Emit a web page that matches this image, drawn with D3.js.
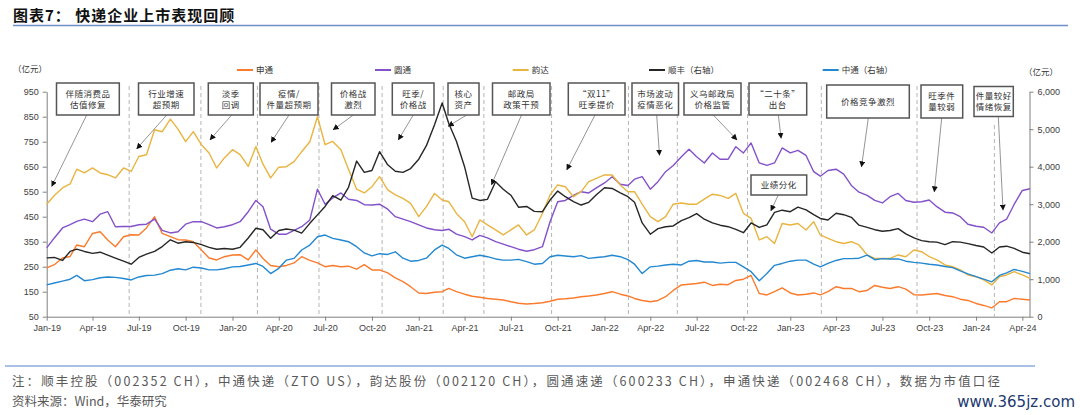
<!DOCTYPE html>
<html><head><meta charset="utf-8">
<script src="https://cdn.jsdelivr.net/npm/d3@7"></script>
<style>body{margin:0;background:#fff}svg{display:block}</style>
</head><body>
<svg id="c" width="1080" height="415"></svg>
<script>
// ---------- DATA ----------
const dates = [
"2019-01-01","2019-01-16","2019-02-01","2019-02-16","2019-03-01","2019-03-16","2019-04-01","2019-04-16","2019-05-01","2019-05-16","2019-06-01","2019-06-16",
"2019-07-01","2019-07-16","2019-08-01","2019-08-16","2019-09-01","2019-09-16","2019-10-01","2019-10-16","2019-11-01","2019-11-16","2019-12-01","2019-12-16",
"2020-01-01","2020-01-16","2020-02-01","2020-02-16","2020-03-01","2020-03-16","2020-04-01","2020-04-16","2020-05-01","2020-05-16","2020-06-01","2020-06-16",
"2020-07-01","2020-07-16","2020-08-01","2020-08-16","2020-09-01","2020-09-16","2020-10-01","2020-10-16","2020-11-01","2020-11-16","2020-12-01","2020-12-16",
"2021-01-01","2021-01-16","2021-02-01","2021-02-16","2021-03-01","2021-03-16","2021-04-01","2021-04-16","2021-05-01","2021-05-16","2021-06-01","2021-06-16",
"2021-07-01","2021-07-16","2021-08-01","2021-08-16","2021-09-01","2021-09-16","2021-10-01","2021-10-16","2021-11-01","2021-11-16","2021-12-01","2021-12-16",
"2022-01-01","2022-01-16","2022-02-01","2022-02-16","2022-03-01","2022-03-16","2022-04-01","2022-04-16","2022-05-01","2022-05-16","2022-06-01","2022-06-16",
"2022-07-01","2022-07-16","2022-08-01","2022-08-16","2022-09-01","2022-09-16","2022-10-01","2022-10-16","2022-11-01","2022-11-16","2022-12-01","2022-12-16",
"2023-01-01","2023-01-16","2023-02-01","2023-02-16","2023-03-01","2023-03-16","2023-04-01","2023-04-16","2023-05-01","2023-05-16","2023-06-01","2023-06-16",
"2023-07-01","2023-07-16","2023-08-01","2023-08-16","2023-09-01","2023-09-16","2023-10-01","2023-10-16","2023-11-01","2023-11-16","2023-12-01","2023-12-16",
"2024-01-01","2024-01-16","2024-02-01","2024-02-16","2024-03-01","2024-03-16","2024-04-01","2024-04-16"];

// 申通 (left axis, 亿元)
const stoValues = [
245,258,285,291,337,330,383,390,357,330, 370,378,377,405,450,383,370,358,357,350,
317,285,277,290,297,298,277,317,283,255, 250,255,265,290,275,265,250,255,250,252,
240,258,237,237,225,205,190,170,145,143, 148,150,163,150,140,132,128,123,120,117,
110,104,101,103,106,112,120,122,125,130, 133,137,143,150,140,133,123,115,110,115,
130,155,177,180,183,188,175,180,178,195, 200,215,143,137,150,165,145,137,140,145,
137,150,170,163,163,150,155,175,168,163, 170,160,138,137,140,143,135,130,120,115,
103,95,85,110,110,123,120,117];
// 圆通 (left axis)
const ytoValues = [
325,365,405,418,431,440,430,460,470,410, 411,411,418,420,440,395,385,390,420,430,
430,418,405,410,418,430,470,515,490,400, 380,380,395,410,437,560,500,525,545,520,
515,498,497,500,480,450,440,430,417,405, 398,395,400,380,370,357,375,365,350,340,
330,320,312,318,330,430,510,515,535,550, 545,565,585,610,580,575,600,610,560,590,
630,655,690,720,690,665,705,680,680,730, 705,745,665,655,665,725,705,715,695,630,
612,635,640,620,575,548,535,515,505,530, 543,515,508,510,517,490,468,465,450,420,
412,408,385,425,440,500,555,562];
// 韵达 (left axis)
const ydValues = [
500,535,565,581,640,625,645,625,618,605, 645,631,691,698,798,790,840,800,750,790,
738,705,645,685,718,698,651,731,660,605, 648,650,670,710,750,850,738,751,718,640,
560,545,570,610,557,537,523,503,450,490, 543,517,510,463,430,370,437,417,397,377,
397,417,377,397,463,537,577,570,530,550, 590,603,617,617,577,550,550,500,450,430,
450,500,505,500,500,520,540,535,523,543, 463,443,357,370,343,423,417,423,397,430,
377,363,350,343,350,337,297,283,283,283, 297,290,317,310,290,277,257,250,237,217,
210,197,177,210,217,230,217,203];
// 顺丰 (right axis)
const sfValues = [
1570,1580,1500,1740,1800,1740,1690,1720,1640,1560, 1480,1400,1580,1670,1740,1870,2050,1960,2000,1980,
1920,1850,1800,1820,1800,1850,2100,2360,2320,2090, 2300,2340,2310,2230,2490,2715,2940,3230,3110,3450,
4150,3850,3900,4400,4050,3880,3850,3950,4200,4560, 5120,5700,5150,4680,4000,3160,3100,3130,3600,3400,
3240,2920,2940,2810,2800,3111,3350,3200,3067,2978, 3050,3250,3440,3420,3300,3200,3050,2500,2200,2350,
2400,2420,2560,2640,2750,2600,2500,2440,2400,2330, 2240,2500,2380,2450,2780,2840,2800,2920,2850,2720,
2620,2580,2760,2720,2650,2440,2380,2320,2280,2300, 2350,2210,2100,2030,2000,1990,1920,2000,1990,1950,
1900,1860,1700,1860,1880,1820,1720,1680];
// 中通 (right axis)
const ztoValues = [
850,900,950,1000,1100,960,990,1040,1060,1050, 1020,980,1060,1100,1110,1150,1240,1280,1250,1320,
1300,1250,1250,1280,1330,1340,1380,1420,1340,1150, 1290,1510,1556,1778,1911,2133,2178,2089,2044,2000,
1867,1700,1620,1680,1660,1730,1560,1480,1500,1560, 1780,1910,1820,1650,1560,1600,1640,1600,1540,1510,
1510,1530,1470,1400,1420,1600,1640,1620,1600,1630, 1556,1580,1600,1640,1600,1520,1400,1150,1330,1350,
1380,1400,1380,1480,1500,1460,1460,1430,1450,1450, 1330,1200,960,1150,1370,1420,1480,1510,1510,1400,
1330,1420,1500,1550,1550,1560,1640,1520,1550,1540, 1540,1480,1450,1430,1400,1380,1340,1310,1220,1140,
1070,1000,930,1100,1170,1260,1210,1150];

const seriesNames = ["申通","圆通","韵达","顺丰（右轴）","中通（右轴）"];
const leftTicks = [50,150,250,350,450,550,650,750,850,950];
const rightTicks = [0,1000,2000,3000,4000,5000,6000];
const xTickDates = ["2019-01-01","2019-04-01","2019-07-01","2019-10-01","2020-01-01","2020-04-01","2020-07-01","2020-10-01",
"2021-01-01","2021-04-01","2021-07-01","2021-10-01","2022-01-01","2022-04-01","2022-07-01","2022-10-01",
"2023-01-01","2023-04-01","2023-07-01","2023-10-01","2024-01-01","2024-04-01"];
const eventDates = ["2019-06-12","2019-10-31","2020-02-19","2020-06-19","2020-10-21","2021-02-18","2021-05-09",
"2021-09-19","2022-02-17","2022-05-24","2022-10-09","2023-03-03","2023-09-07","2024-02-06"];
const noteTexts = [
 ["伴随消费品","估值修复"],["行业增速","超预期"],["淡季","回调"],["疫情/","件量超预期"],["价格战","激烈"],
 ["旺季/","价格战"],["核心","资产"],["邮政局","政策干预"],["“双11”","旺季提价"],["市场波动","疫情恶化"],
 ["义乌邮政局","价格监管"],["“二十条”","出台"],["业绩分化"],["价格竞争激烈"],["旺季件","量较弱"],["件量较好","情绪恢复"]];
const noteTargetDates = ["2019-01-11","2019-06-27","2019-11-18","2020-03-17","2020-07-17","2020-11-22","2021-02-28",
 "2021-05-24","2021-10-19","2022-04-19","2022-09-18","2022-12-14","2022-11-24","2023-05-21","2023-10-11","2024-02-23"];
const noteTargetValues = [572,722,758,748,798,758,812,578,638,696,758,764,474,650,550,477];

// ---------- LAYOUT / STYLE ----------
const colors = ["#fb7b2d","#8351c9","#e9b440","#262626","#2388d0"];
const boxLayout = [ // x0,x1,y0,y1 in px
 [56.5,119.3,83,115],[138.5,194,83,115],[208.3,253.3,83,115],[260,318,83,115],[331.5,375,83,115],
 [392.3,434,83,115],[448,479,83,115],[492.5,550,83,115],[568.3,625,83,115],[632,678.5,83,115],
 [684,741,83,115],[749,806.7,83,115],[751,806.7,175,195],[826.7,909.3,85,118],[921,962.7,85,118],[974,1013.3,86.5,116.5]];
const arrowStartX = [86.7,166.7,231.7,289,353.3,413.3,466.7,521.5,595,656.7,713.3,778.3,778.3,868.3,941.7,998.3];

const parse = d3.timeParse("%Y-%m-%d");
const D = dates.map(parse);
const svg = d3.select("#c");
svg.append("rect").attr("width",1080).attr("height",415).attr("fill","#fff");

const x = d3.scaleTime().domain([parse("2019-01-01"), parse("2024-04-15")]).range([46.7,1029.5]);
const yL = d3.scaleLinear().domain([50,950]).range([316.7,91.7]);
const yR = d3.scaleLinear().domain([0,6000]).range([316.7,91.7]);

const CJK = "'Noto Sans CJK SC','Noto Sans',sans-serif";
const LAT = "'Liberation Sans',Arial,sans-serif";

// title
svg.append("text").attr("x",13).attr("y",21).attr("font-family",CJK).attr("font-weight","bold")
  .attr("font-size",15).attr("letter-spacing",1).attr("fill","#111").text("图表7：  快递企业上市表现回顾");
svg.append("line").attr("x1",13).attr("x2",1068).attr("y1",25.5).attr("y2",25.5).attr("stroke","#6f8fc9").attr("stroke-width",1.3);

// units
svg.append("text").attr("x",13).attr("y",72).attr("font-family",CJK).attr("font-size",8.5).attr("fill","#333").text("（亿元）");
svg.append("text").attr("x",1024).attr("y",75).attr("font-family",CJK).attr("font-size",8.5).attr("fill","#333").text("（亿元）");

// legend
const legX = [237,375,512.7,649,822.7];
seriesNames.forEach((n,i)=>{
  svg.append("line").attr("x1",legX[i]).attr("x2",legX[i]+16).attr("y1",70).attr("y2",70).attr("stroke",colors[i]).attr("stroke-width",2);
  svg.append("text").attr("x",legX[i]+19).attr("y",73).attr("font-family",CJK).attr("font-size",8.5).attr("fill","#333").text(n);
});

// event dashed lines
eventDates.forEach((d,i)=>{
  const xx = x(parse(d));
  svg.append("line").attr("x1",xx).attr("x2",xx).attr("y1", i===eventDates.length-1?125:86).attr("y2",316.7)
    .attr("stroke","#b5b5b5").attr("stroke-width",1).attr("stroke-dasharray","4,3");
});

// axes
function styleAxis(g){
  g.selectAll("path,line").attr("stroke","#808080");
  g.selectAll("text").attr("font-family",LAT).attr("font-size",9).attr("fill","#404040");
}
svg.append("g").attr("transform","translate(46.7,0)")
  .call(d3.axisLeft(yL).tickValues(leftTicks).tickSize(4).tickSizeOuter(0).tickPadding(4)).call(styleAxis);
svg.append("g").attr("transform","translate(1029.5,0)")
  .call(d3.axisRight(yR).tickValues(rightTicks).tickSize(4).tickSizeOuter(0).tickPadding(4).tickFormat(d3.format(","))).call(styleAxis);
svg.append("g").attr("transform","translate(0,316.7)")
  .call(d3.axisBottom(x).tickValues(xTickDates.map(parse)).tickSize(4).tickSizeOuter(0).tickPadding(4).tickFormat(d3.timeFormat("%b-%y"))).call(styleAxis);

// series
const allSeries = [[stoValues,yL],[ytoValues,yL],[ydValues,yL],[sfValues,yR],[ztoValues,yR]];
allSeries.forEach(([vals,ys],i)=>{
  const line = d3.line().x((d,j)=>x(D[j])).y(d=>ys(d));
  svg.append("path").datum(vals).attr("d",line).attr("fill","none").attr("stroke",colors[i])
    .attr("stroke-width",1.4).attr("stroke-linejoin","round");
});

// arrow marker
svg.append("defs").append("marker").attr("id","ah").attr("viewBox","0 0 10 10").attr("refX",9).attr("refY",5)
  .attr("markerWidth",6).attr("markerHeight",6).attr("markerUnits","userSpaceOnUse").attr("orient","auto")
  .append("path").attr("d","M0,0L10,5L0,10z").attr("fill","#111");

// annotations
noteTexts.forEach((lines,i)=>{
  const [x0,x1,y0,y1] = boxLayout[i];
  svg.append("line").attr("x1",arrowStartX[i]).attr("y1",y1)
    .attr("x2",x(parse(noteTargetDates[i]))).attr("y2",yL(noteTargetValues[i]))
    .attr("stroke","#7a7a7a").attr("stroke-width",0.8).attr("marker-end","url(#ah)");
  svg.append("rect").attr("x",x0).attr("y",y0).attr("width",x1-x0).attr("height",y1-y0)
    .attr("fill","#fff").attr("stroke","#555").attr("stroke-width",1.5);
  const cx=(x0+x1)/2, cy=(y0+y1)/2;
  lines.forEach((t,k)=>{
    const dy = lines.length===1?0:(k===0?-5.5:5.5);
    svg.append("text").attr("x",cx).attr("y",cy+dy+3).attr("text-anchor","middle").attr("font-family",CJK)
      .attr("font-size",8.5).attr("letter-spacing",0.5).attr("fill","#333").text(t);
  });
});

// footer
svg.append("line").attr("x1",5).attr("x2",1035).attr("y1",366).attr("y2",366).attr("stroke","#8eaadb").attr("stroke-width",1.5);
svg.append("text").attr("x",12).attr("y",386).attr("font-family",CJK).attr("font-size",12.5).attr("fill","#595959")
  .attr("textLength",988).attr("lengthAdjust","spacing")
  .text("注：顺丰控股（002352 CH），中通快递（ZTO US），韵达股份（002120 CH），圆通速递（600233 CH），申通快递（002468 CH），数据为市值口径");
svg.append("text").attr("x",12).attr("y",406).attr("font-family",CJK).attr("font-size",12.5).attr("fill","#595959")
  .text("资料来源：Wind，华泰研究");
svg.append("text").attr("x",1075).attr("y",407).attr("text-anchor","end").attr("font-family","'DejaVu Sans',sans-serif")
  .attr("font-size",15).attr("fill","#1d3a70").text("www.365jz.com");
</script>
</body></html>
